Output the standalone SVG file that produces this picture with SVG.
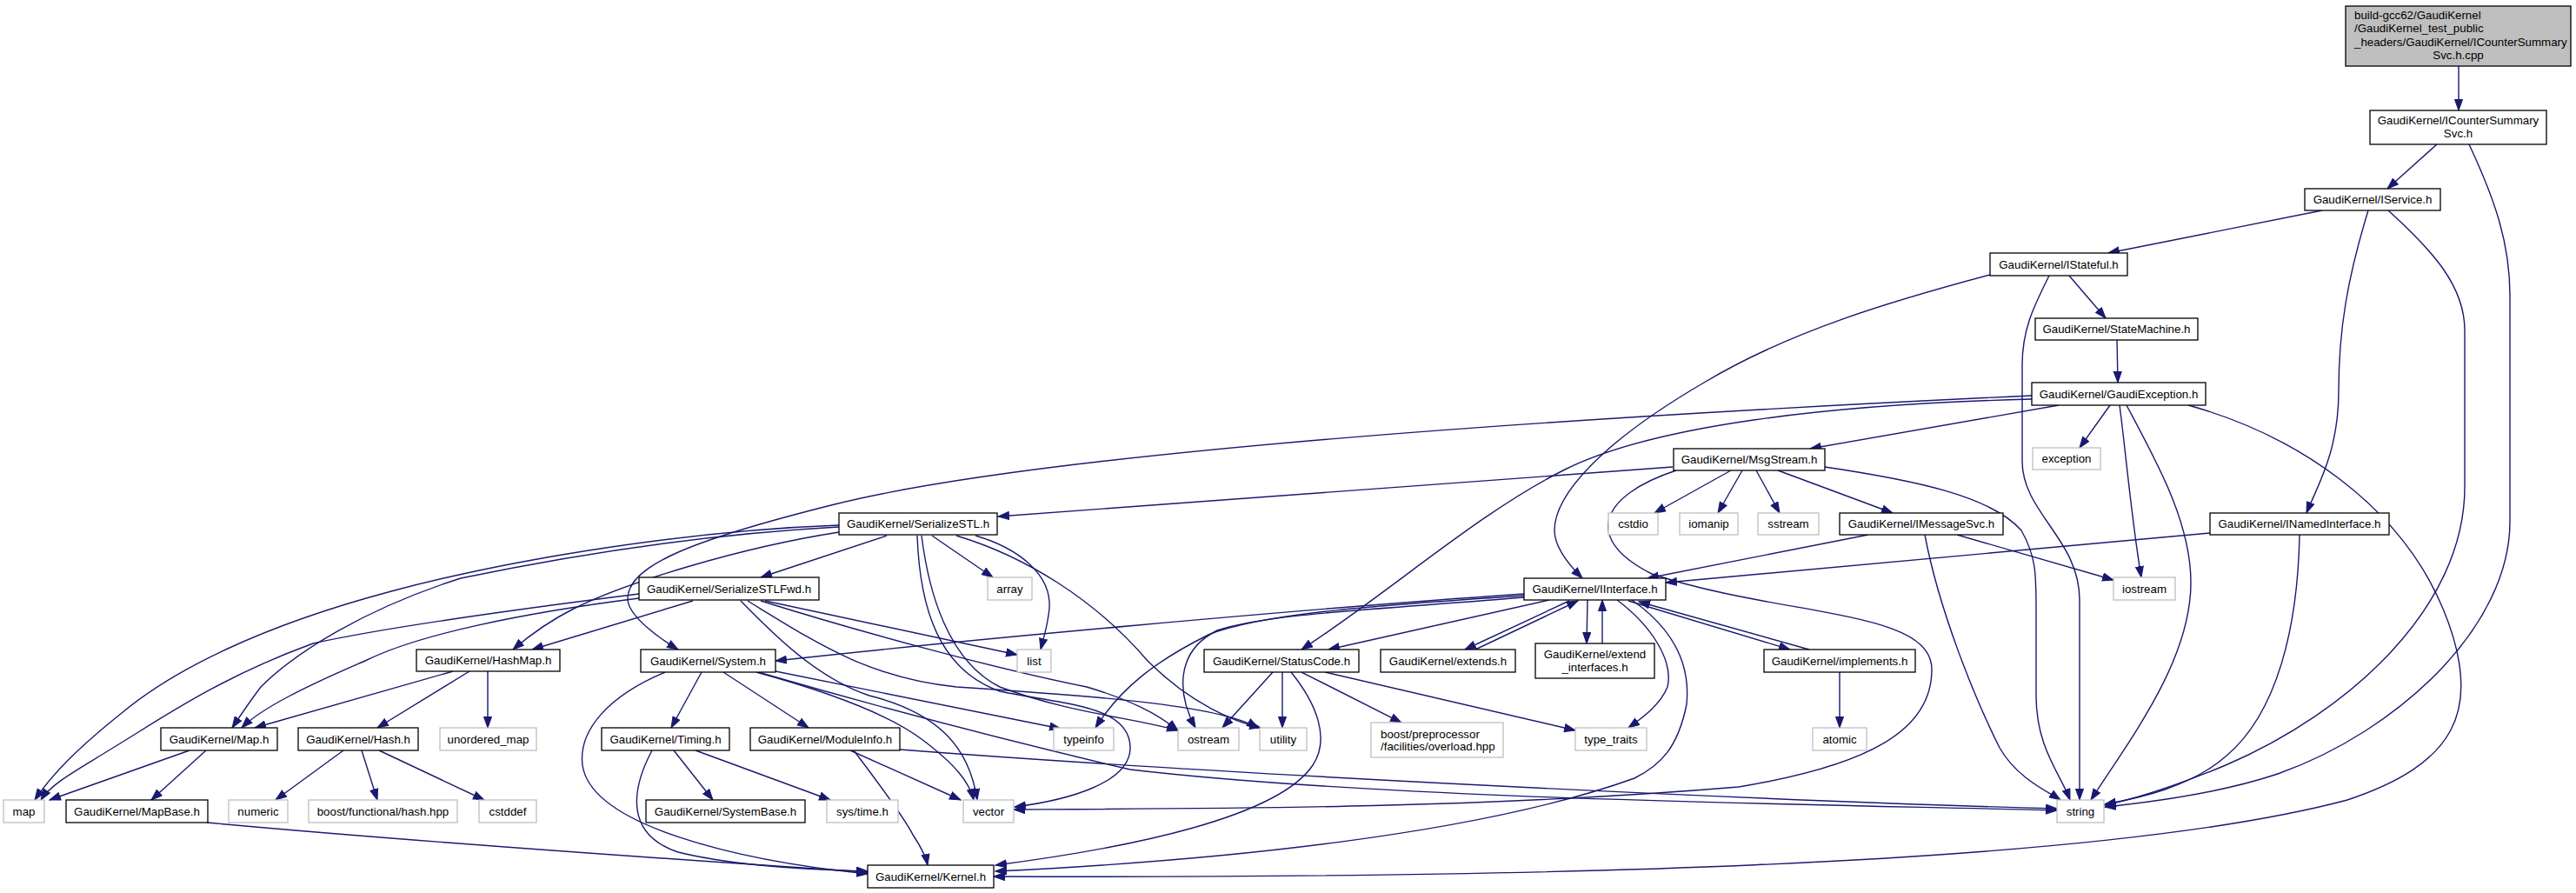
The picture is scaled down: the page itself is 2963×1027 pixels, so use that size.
<svg xmlns="http://www.w3.org/2000/svg" width="2963" height="1027" viewBox="0 0 2963 1027">
<style>
.n rect{fill:#fff;stroke:#000;stroke-width:1.3}
.s rect{fill:#fff;stroke:#bfbfbf;stroke-width:1.3}
.r rect{fill:#bfbfbf;stroke:#000;stroke-width:1.3}
text{font-family:"Liberation Sans",Arial,sans-serif;font-size:13.3px;fill:#000;text-anchor:middle}
text.l{text-anchor:start}
#edges path{fill:none;stroke:#191970;stroke-width:1.4;marker-end:url(#a)}
</style>
<defs>
<marker id="a" markerUnits="userSpaceOnUse" markerWidth="14" markerHeight="11" refX="13" refY="5" orient="auto"><path d="M0.5,0.5 L13,5 L0.5,9.5 z" fill="#191970" stroke="#191970" stroke-width="1"/></marker>
</defs>
<rect width="2963" height="1027" fill="#fff"/>
<g id="edges">
<path d="M2828,76 L2828,127"/>
<path d="M2803,166 L2746,217"/>
<path d="M2840,166 C2870,230 2887,280 2887,340 L2887,600 C2887,720 2760,840 2620,890 C2560,910 2480,922 2421,928"/>
<path d="M2747,242 C2800,290 2835,330 2835,380 L2835,560 C2835,700 2700,820 2560,880 C2500,905 2460,918 2421,926"/>
<path d="M2671,242 L2425,291"/>
<path d="M2724,242 C2700,320 2690,380 2690,450 C2690,520 2665,560 2653,590"/>
<path d="M2380,317 L2422,366"/>
<path d="M2357,317 C2338,355 2326,380 2326,420 L2326,530 C2326,590 2392,620 2392,690 L2392,920"/>
<path d="M2289,316 C2180,345 2060,380 1960,440 C1840,510 1788,570 1788,610 C1788,630 1805,650 1820,665"/>
<path d="M2435,391 L2436,440"/>
<path d="M2427,466 L2392,515"/>
<path d="M2438,466 C2444,510 2452,600 2463,664"/>
<path d="M2446,466 C2480,530 2520,600 2520,670 C2520,760 2450,850 2405,920"/>
<path d="M2517,466 C2640,500 2760,580 2810,700 C2860,820 2820,880 2700,920 C2400,1000 1700,1010 1143,1008"/>
<path d="M2368,466 L2082,516"/>
<path d="M2337,455 C1800,480 1200,520 960,580 C800,620 720,650 722,690 C724,710 760,735 780,747"/>
<path d="M2337,459 C2100,465 1900,490 1800,540 C1700,590 1600,680 1497,747"/>
<path d="M1991,541 L1903,590"/>
<path d="M2004,541 L1976,590"/>
<path d="M2020,541 L2047,590"/>
<path d="M2045,541 L2177,590"/>
<path d="M2099,537 C2200,552 2290,570 2325,610 C2342,640 2342,660 2342,700 L2342,800 C2342,860 2370,890 2381,920"/>
<path d="M1928,541 C1840,570 1820,620 1900,660 C2050,710 2222,700 2222,770 C2222,840 2150,880 2000,905 C1700,930 1400,930 1166,931"/>
<path d="M1924,537 L1148,594"/>
<path d="M2149,615 L1895,665"/>
<path d="M2251,615 L2431,667"/>
<path d="M2214,615 C2230,700 2270,800 2300,860 C2320,895 2355,910 2370,920"/>
<path d="M2542,613 L1916,670"/>
<path d="M2645,615 C2643,720 2620,820 2560,870 C2520,905 2460,918 2421,925"/>
<path d="M1782,690 L1528,747"/>
<path d="M1805,691 L1685,747"/>
<path d="M1697,747 L1815,691"/>
<path d="M1826,690 L1825,740"/>
<path d="M1843,740 L1843,690"/>
<path d="M1873,691 L2059,747"/>
<path d="M2081,747 L1885,692"/>
<path d="M1860,690 C1900,720 1925,760 1918,790 C1910,810 1890,825 1873,837"/>
<path d="M1877,690 C1920,720 1945,760 1940,810 C1930,860 1910,880 1880,895 C1700,960 1400,990 1145,1002"/>
<path d="M1753,683 C1500,700 1100,737 892,760"/>
<path d="M1753,685 C1600,695 1450,705 1390,730 C1330,760 1290,790 1260,837"/>
<path d="M1753,687 C1600,700 1460,705 1400,725 C1350,750 1355,800 1375,837"/>
<path d="M1464,773 L1406,837"/>
<path d="M1475,773 L1475,837"/>
<path d="M1485,773 C1515,810 1530,850 1510,880 C1470,940 1300,975 1145,995"/>
<path d="M1497,773 L1612,831"/>
<path d="M1524,773 L1812,840"/>
<path d="M1020,616 L875,664"/>
<path d="M1072,616 L1142,664"/>
<path d="M1122,616 C1170,630 1210,660 1207,700 C1205,720 1200,735 1197,747"/>
<path d="M1100,616 C1180,640 1260,690 1320,760 C1370,810 1420,830 1450,837"/>
<path d="M1060,616 C1068,680 1090,760 1150,790 C1230,820 1300,825 1355,840"/>
<path d="M1055,616 C1058,700 1080,770 1150,795 C1220,810 1300,810 1300,860 C1300,900 1230,920 1167,928"/>
<path d="M965,604 C800,610 600,640 450,680 C300,720 200,770 140,820 C90,860 60,890 40,920"/>
<path d="M965,606 C800,615 650,640 530,665 C420,700 340,750 300,790 C285,810 275,825 267,837"/>
<path d="M965,612 C850,630 720,670 660,700 C630,715 610,730 590,747"/>
<path d="M797,691 L612,747"/>
<path d="M735,683 C600,700 450,720 360,740 C250,780 180,830 130,860 C90,885 60,900 47,920"/>
<path d="M735,688 C600,705 480,730 420,760 C350,790 300,815 278,837"/>
<path d="M880,691 L1170,753"/>
<path d="M852,691 C890,730 940,780 1000,800 C1080,820 1115,860 1124,920"/>
<path d="M860,691 C940,740 1000,780 1100,790 C1250,800 1400,810 1447,837"/>
<path d="M875,691 C1000,730 1150,770 1250,790 C1300,805 1330,820 1355,840"/>
<path d="M807,773 L772,837"/>
<path d="M832,773 L930,837"/>
<path d="M765,773 C700,800 665,840 670,880 C680,950 850,990 998,1005"/>
<path d="M750,863 C725,910 720,960 780,980 C840,995 920,1000 998,1002"/>
<path d="M775,863 L820,920"/>
<path d="M800,863 L955,920"/>
<path d="M978,863 L1105,920"/>
<path d="M982,863 C1010,900 1040,940 1050,960 C1060,975 1065,985 1067,995"/>
<path d="M1035,862 C1400,890 2000,920 2366,930"/>
<path d="M870,773 C950,795 1020,820 1060,850 C1100,880 1115,900 1120,920"/>
<path d="M872,773 C1000,810 1150,850 1300,885 C1600,920 2100,925 2366,932"/>
<path d="M892,772 L1220,838"/>
<path d="M238,946 C500,970 800,990 998,1003"/>
<path d="M218,863 L57,920"/>
<path d="M237,863 L174,920"/>
<path d="M521,772 L293,837"/>
<path d="M540,772 L434,837"/>
<path d="M561,772 L561,837"/>
<path d="M395,863 L317,920"/>
<path d="M416,863 L434,920"/>
<path d="M436,863 L557,920"/>
<path d="M2116,773 L2116,837"/>
</g>
<g id="root" class="r"><rect x="2698" y="7" width="259" height="69"/><text class="l" x="2708" y="21.5">build-gcc62/GaudiKernel</text><text class="l" x="2708" y="37">/GaudiKernel_test_public</text><text class="l" x="2708" y="52.5">_headers/GaudiKernel/ICounterSummary</text><text x="2827.5" y="67.5">Svc.h.cpp</text></g>
<g id="ICounterSummarySvc" class="n"><rect x="2726" y="127" width="203" height="39"/><text x="2827.5" y="142.5">GaudiKernel/ICounterSummary</text><text x="2827.5" y="157.5">Svc.h</text></g>
<g id="IService" class="n"><rect x="2651" y="217" width="156" height="25"/><text x="2729" y="234">GaudiKernel/IService.h</text></g>
<g id="IStateful" class="n"><rect x="2289" y="291" width="158" height="26"/><text x="2368" y="308.5">GaudiKernel/IStateful.h</text></g>
<g id="StateMachine" class="n"><rect x="2341" y="366" width="187" height="25"/><text x="2434.5" y="383">GaudiKernel/StateMachine.h</text></g>
<g id="GaudiException" class="n"><rect x="2337" y="440" width="200" height="26"/><text x="2437" y="457.5">GaudiKernel/GaudiException.h</text></g>
<g id="exception" class="s"><rect x="2338" y="515" width="78" height="25"/><text x="2377" y="532">exception</text></g>
<g id="MsgStream" class="n"><rect x="1925" y="516" width="174" height="25"/><text x="2012" y="533">GaudiKernel/MsgStream.h</text></g>
<g id="cstdio" class="s"><rect x="1850" y="590" width="57" height="25"/><text x="1878.5" y="607">cstdio</text></g>
<g id="iomanip" class="s"><rect x="1932" y="590" width="67" height="25"/><text x="1965.5" y="607">iomanip</text></g>
<g id="sstream" class="s"><rect x="2022" y="590" width="70" height="25"/><text x="2057" y="607">sstream</text></g>
<g id="IMessageSvc" class="n"><rect x="2116" y="590" width="188" height="25"/><text x="2210" y="607">GaudiKernel/IMessageSvc.h</text></g>
<g id="INamedInterface" class="n"><rect x="2542" y="590" width="206" height="25"/><text x="2645" y="607">GaudiKernel/INamedInterface.h</text></g>
<g id="iostream" class="s"><rect x="2431" y="664" width="71" height="26"/><text x="2466.5" y="681.5">iostream</text></g>
<g id="string" class="s"><rect x="2366" y="920" width="54" height="26"/><text x="2393" y="937.5">string</text></g>
<g id="IInterface" class="n"><rect x="1753" y="665" width="163" height="25"/><text x="1834.5" y="682">GaudiKernel/IInterface.h</text></g>
<g id="StatusCode" class="n"><rect x="1385" y="747" width="178" height="26"/><text x="1474" y="764.5">GaudiKernel/StatusCode.h</text></g>
<g id="extends" class="n"><rect x="1588" y="747" width="155" height="26"/><text x="1665.5" y="764.5">GaudiKernel/extends.h</text></g>
<g id="extend_interfaces" class="n"><rect x="1766" y="740" width="137" height="40"/><text x="1834.5" y="756.5">GaudiKernel/extend</text><text x="1834.5" y="771.5">_interfaces.h</text></g>
<g id="implements" class="n"><rect x="2029" y="747" width="174" height="26"/><text x="2116" y="764.5">GaudiKernel/implements.h</text></g>
<g id="atomic" class="s"><rect x="2085" y="837" width="62" height="26"/><text x="2116" y="854.5">atomic</text></g>
<g id="boost_preprocessor" class="s"><rect x="1577" y="831" width="152" height="40"/><text class="l" x="1588" y="848.5">boost/preprocessor</text><text class="l" x="1588" y="862.5">/facilities/overload.hpp</text></g>
<g id="type_traits" class="s"><rect x="1812" y="837" width="82" height="26"/><text x="1853" y="854.5">type_traits</text></g>
<g id="utility" class="s"><rect x="1449" y="837" width="54" height="26"/><text x="1476" y="854.5">utility</text></g>
<g id="ostream" class="s"><rect x="1355" y="837" width="70" height="26"/><text x="1390" y="854.5">ostream</text></g>
<g id="typeinfo" class="s"><rect x="1212" y="837" width="69" height="26"/><text x="1246.5" y="854.5">typeinfo</text></g>
<g id="SerializeSTL" class="n"><rect x="965" y="590" width="182" height="25"/><text x="1056" y="607">GaudiKernel/SerializeSTL.h</text></g>
<g id="SerializeSTLFwd" class="n"><rect x="735" y="664" width="207" height="26"/><text x="838.5" y="681.5">GaudiKernel/SerializeSTLFwd.h</text></g>
<g id="array" class="s"><rect x="1136" y="664" width="51" height="26"/><text x="1161.5" y="681.5">array</text></g>
<g id="list" class="s"><rect x="1170" y="747" width="39" height="26"/><text x="1189.5" y="764.5">list</text></g>
<g id="System" class="n"><rect x="737" y="747" width="155" height="26"/><text x="814.5" y="764.5">GaudiKernel/System.h</text></g>
<g id="HashMap" class="n"><rect x="479" y="747" width="165" height="25"/><text x="561.5" y="764">GaudiKernel/HashMap.h</text></g>
<g id="Timing" class="n"><rect x="692" y="837" width="147" height="26"/><text x="765.5" y="854.5">GaudiKernel/Timing.h</text></g>
<g id="ModuleInfo" class="n"><rect x="863" y="837" width="172" height="26"/><text x="949" y="854.5">GaudiKernel/ModuleInfo.h</text></g>
<g id="SystemBase" class="n"><rect x="743" y="920" width="183" height="26"/><text x="834.5" y="937.5">GaudiKernel/SystemBase.h</text></g>
<g id="sys_time" class="s"><rect x="951" y="920" width="82" height="26"/><text x="992" y="937.5">sys/time.h</text></g>
<g id="vector" class="s"><rect x="1108" y="920" width="58" height="26"/><text x="1137" y="937.5">vector</text></g>
<g id="Kernel" class="n"><rect x="998" y="995" width="145" height="26"/><text x="1070.5" y="1012.5">GaudiKernel/Kernel.h</text></g>
<g id="Map" class="n"><rect x="185" y="837" width="134" height="26"/><text x="252" y="854.5">GaudiKernel/Map.h</text></g>
<g id="Hash" class="n"><rect x="343" y="837" width="138" height="26"/><text x="412" y="854.5">GaudiKernel/Hash.h</text></g>
<g id="unordered_map" class="s"><rect x="506" y="837" width="111" height="26"/><text x="561.5" y="854.5">unordered_map</text></g>
<g id="map" class="s"><rect x="4" y="920" width="47" height="26"/><text x="27.5" y="937.5">map</text></g>
<g id="MapBase" class="n"><rect x="76" y="920" width="163" height="26"/><text x="157.5" y="937.5">GaudiKernel/MapBase.h</text></g>
<g id="numeric" class="s"><rect x="263" y="920" width="68" height="26"/><text x="297" y="937.5">numeric</text></g>
<g id="boost_functional_hash" class="s"><rect x="355" y="920" width="171" height="26"/><text x="440.5" y="937.5">boost/functional/hash.hpp</text></g>
<g id="cstddef" class="s"><rect x="551" y="920" width="66" height="26"/><text x="584" y="937.5">cstddef</text></g>
</svg>
